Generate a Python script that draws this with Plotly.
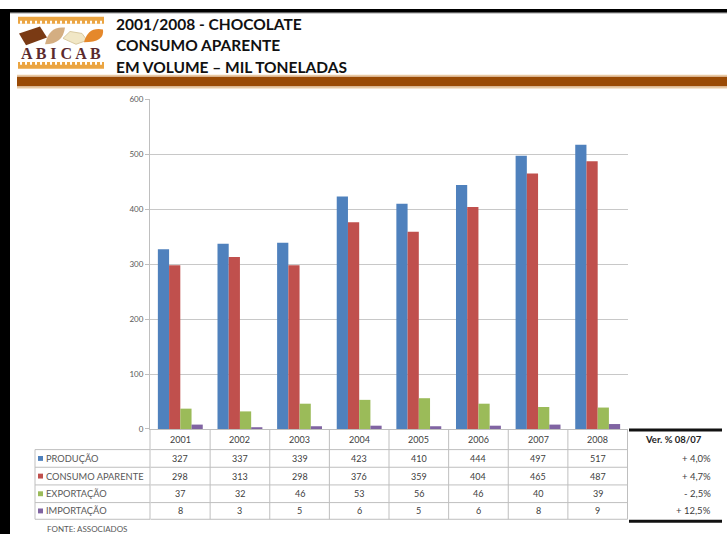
import plotly.graph_objects as go

W, H = 727, 539

years = ["2001", "2002", "2003", "2004", "2005", "2006", "2007", "2008"]
producao = [327, 337, 339, 423, 410, 444, 497, 517]
consumo = [298, 313, 298, 376, 359, 404, 465, 487]
exportacao = [37, 32, 46, 53, 56, 46, 40, 39]
importacao = [8, 3, 5, 6, 5, 6, 8, 9]

series_names = ["PRODUÇÃO", "CONSUMO APARENTE", "EXPORTAÇÃO", "IMPORTAÇÃO"]
series_values = [producao, consumo, exportacao, importacao]
series_colors = ["#4F81BD", "#C0504D", "#9BBB59", "#8064A2"]

title_lines = ["2001/2008 - CHOCOLATE", "CONSUMO APARENTE", "EM VOLUME – MIL TONELADAS"]
source_text = "FONTE: ASSOCIADOS"
var_header = "Ver. % 08/07"


def px(x):
    return x / W


def py(y):
    return 1 - y / H


# plot area in pixels
PL, PR, PT, PB = 150, 628, 96, 432

fig = go.Figure()
for name, vals, col in zip(series_names, series_values, series_colors):
    fig.add_trace(go.Bar(x=years, y=vals, name=name, marker=dict(color=col, line=dict(width=0))))

shapes = []
annotations = []


def rect(x0, y0, x1, y1, color, line=None):
    shapes.append(dict(type="rect", xref="paper", yref="paper",
                       x0=px(x0), x1=px(x1), y0=py(y1), y1=py(y0),
                       fillcolor=color, line=dict(width=0) if line is None else line, layer="above"))


def hline(x0, x1, y, color="#BFBFBF", width=1, xref="paper"):
    if xref == "paper":
        shapes.append(dict(type="line", xref="paper", yref="paper", x0=px(x0), x1=px(x1),
                           y0=py(y), y1=py(y), line=dict(color=color, width=width)))
    else:
        shapes.append(dict(type="line", xref=xref, yref="paper", x0=x0, x1=x1,
                           y0=py(y), y1=py(y), line=dict(color=color, width=width)))


def vline(x, y0, y1, color="#BFBFBF", width=1, xref="paper"):
    xv = px(x) if xref == "paper" else x
    shapes.append(dict(type="line", xref=xref, yref="paper", x0=xv, x1=xv,
                       y0=py(y0), y1=py(y1), line=dict(color=color, width=width)))


def text(x, y, s, size=9, color="#404040", xanchor="left", family="Lato", bold=False, xref="paper"):
    xv = px(x) if xref == "paper" else x
    annotations.append(dict(xref=xref, yref="paper", x=xv, y=py(y), text=f"<b>{s}</b>" if bold else s,
                            showarrow=False, xanchor=xanchor, yanchor="middle",
                            font=dict(size=size, color=color, family=family)))


# page frame
rect(0, 4, 10, H, "#000000")
rect(0, 4, W, 8, "#000000")
rect(10, 8, W, 9, "#BDBDBD")

# header band
rect(17, 71, W, 73, "#E9C9A4")
rect(17, 73, W, 83, "#9A4A05")
rect(17, 83, W, 85, "#E9C9A4")

# logo
rect(18, 12, 104, 19, "#EBA542")
rect(18, 58, 104, 65, "#EBA542")
for i in range(17):
    xx = 20 + i * 5
    rect(xx, 16, xx + 2, 19, "#FFFFFF")
    rect(xx, 58, xx + 2, 61, "#FFFFFF")
shapes.append(dict(type="path", xref="paper", yref="paper", layer="above",
                   path=f"M {px(19)},{py(29)} L {px(40)},{py(22)} L {px(47)},{py(33)} L {px(26)},{py(41)} Z",
                   fillcolor="#7A3A14", line=dict(width=0)))
shapes.append(dict(type="path", xref="paper", yref="paper", layer="above",
                   path=f"M {px(45)},{py(40)} Q {px(49)},{py(21)} {px(65)},{py(23)} Q {px(63)},{py(40)} {px(45)},{py(40)} Z",
                   fillcolor="#D4AE82", line=dict(width=0)))
shapes.append(dict(type="path", xref="paper", yref="paper", layer="above",
                   path=f"M {px(63)},{py(34)} L {px(70)},{py(27)} L {px(82)},{py(29)} L {px(87)},{py(36)} L {px(76)},{py(40)} Z",
                   fillcolor="#F1E7C6", line=dict(color="#D9C9A0", width=1)))
shapes.append(dict(type="path", xref="paper", yref="paper", layer="above",
                   path=f"M {px(84)},{py(38)} Q {px(88)},{py(22)} {px(103)},{py(25)} Q {px(105)},{py(38)} {px(84)},{py(38)} Z",
                   fillcolor="#E5882B", line=dict(width=0)))
text(61, 49, "A B I C A B", size=16, color="#5B2A2E", xanchor="center", family="Liberation Serif", bold=True)

# title
for i, line in enumerate(title_lines):
    text(114, 19 + i * 22, line, size=15.5, color="#111111", family="Lato", bold=True)

# data table grid
ROW_Y = [453, 471, 489, 507, 524]
vline(35, ROW_Y[0], ROW_Y[-1])
vline(PL, PB, ROW_Y[-1])
for k in range(len(years)):
    vline(k + 0.5, PB, ROW_Y[-1], xref="x")
for y in ROW_Y:
    hline(35, PL, y)
    hline(-0.5, len(years) - 0.5, y, xref="x")

# header row with years
for k, yr in enumerate(years):
    text(k, 443, yr, size=9, xanchor="center", family="Lato", xref="x")

# series rows
for r, (name, vals, col) in enumerate(zip(series_names, series_values, series_colors)):
    yc = (ROW_Y[r] + ROW_Y[r + 1]) / 2
    rect(38, yc - 2.5, 43, yc + 2.5, col)
    text(44, yc, name, size=9.3, color="#595959", family="Lato")
    for k, v in enumerate(vals):
        text(k, yc, str(v), size=9, xanchor="center", family="Lato", xref="x")

# year-over-year variation column
hline(629, 722, 433, color="#111111", width=3)
hline(629, 722, 526, color="#111111", width=3)
text(673, 443, var_header, size=9.5, color="#222222", xanchor="center", family="Lato", bold=True)
for r, vals in enumerate(series_values):
    pct = (vals[-1] - vals[-2]) / vals[-2] * 100
    sign = "+" if pct >= 0 else "-"
    label = f"{sign} {abs(pct):.1f}%".replace(".", ",")
    yc = (ROW_Y[r] + ROW_Y[r + 1]) / 2
    text(713, yc, label, size=9.5, color="#404040", xanchor="right", family="Lato")

text(45, 534, source_text, size=8, color="#595959", family="Lato")

fig.update_layout(
    width=W, height=H,
    margin=dict(l=0, r=0, t=0, b=0),
    paper_bgcolor="#FFFFFF", plot_bgcolor="#FFFFFF",
    showlegend=False,
    barmode="group", bargap=0.247, bargroupgap=0,
    shapes=shapes, annotations=annotations,
    xaxis=dict(domain=[px(PL), px(PR)], type="category", showticklabels=False,
               showgrid=False, showline=True, linecolor="#BFBFBF", linewidth=1, ticks=""),
    yaxis=dict(domain=[py(PB), py(PT)], range=[0, 600], dtick=100, showgrid=True,
               gridcolor="#C8C8C8", gridwidth=1, showline=True, linecolor="#BFBFBF",
               ticks="outside", ticklen=4, tickcolor="#BFBFBF", zeroline=False,
               tickfont=dict(size=8, color="#595959", family="Lato")),
)

fig.write_html("out.html")
